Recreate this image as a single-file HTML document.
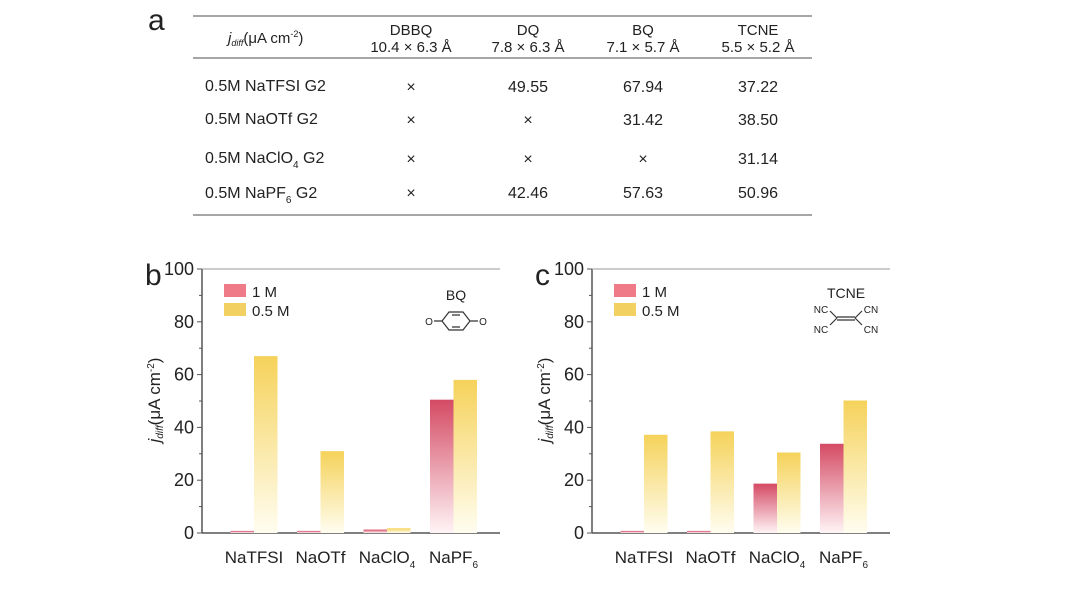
<!DOCTYPE html>
<html><head><meta charset="utf-8"><style>
body{margin:0;background:#fff;font-family:"Liberation Sans",sans-serif;}
svg text{font-family:"Liberation Sans",sans-serif;fill:#222;}
</style></head><body>
<svg width="1080" height="587" viewBox="0 0 1080 587">
<defs>
<linearGradient id="gr" x1="0" y1="0" x2="0" y2="1"><stop offset="0" stop-color="#d44a64"/><stop offset="1" stop-color="#fff4f6"/></linearGradient>
<linearGradient id="gy" x1="0" y1="0" x2="0" y2="1"><stop offset="0" stop-color="#f5d25a"/><stop offset="1" stop-color="#fffdf0"/></linearGradient>
</defs>
<g>
<text x="148" y="30" font-size="30">a</text>
<line x1="193" y1="16" x2="812" y2="16" stroke="#888" stroke-width="1.5"/>
<line x1="193" y1="58" x2="812" y2="58" stroke="#888" stroke-width="1.5"/>
<line x1="193" y1="215" x2="812" y2="215" stroke="#888" stroke-width="1.5"/>
<text x="228" y="43" font-size="15"><tspan font-style="italic">j</tspan><tspan font-size="9" dy="3" font-style="italic">diff</tspan><tspan dy="-3">(μA cm</tspan><tspan font-size="9" dy="-6">-2</tspan><tspan dy="6">)</tspan></text>
<g font-size="15" text-anchor="middle">
<text x="411" y="35">DBBQ</text><text x="411" y="52">10.4 × 6.3 Å</text>
<text x="528" y="35">DQ</text><text x="528" y="52">7.8 × 6.3 Å</text>
<text x="643" y="35">BQ</text><text x="643" y="52">7.1 × 5.7 Å</text>
<text x="758" y="35">TCNE</text><text x="758" y="52">5.5 × 5.2 Å</text>
</g>
<g font-size="16">
<text x="205" y="91">0.5M NaTFSI G2</text>
<text x="205" y="124">0.5M NaOTf  G2</text>
<text x="205" y="163">0.5M NaClO<tspan font-size="10" dy="5">4</tspan><tspan dy="-5"> G2</tspan></text>
<text x="205" y="198">0.5M NaPF<tspan font-size="10" dy="5">6</tspan><tspan dy="-5"> G2</tspan></text>
</g>
<g font-size="16" text-anchor="middle">
<text x="411" y="92">×</text><text x="528" y="92">49.55</text><text x="643" y="92">67.94</text><text x="758" y="92">37.22</text>
<text x="411" y="125">×</text><text x="528" y="125">×</text><text x="643" y="125">31.42</text><text x="758" y="125">38.50</text>
<text x="411" y="164">×</text><text x="528" y="164">×</text><text x="643" y="164">×</text><text x="758" y="164">31.14</text>
<text x="411" y="198">×</text><text x="528" y="198">42.46</text><text x="643" y="198">57.63</text><text x="758" y="198">50.96</text>
</g>
</g>
<g id="chartb"></g>
<g id="chartc"></g>
</svg>
<script>
const categories = ["NaTFSI","NaOTf","NaClO4","NaPF6"];
const yTicks = [0,20,40,60,80,100];
const bOneM = [0.8,0.8,1.3,50.5];
const bHalfM = [67,31,1.8,58];
const cOneM = [0.8,0.8,18.7,33.8];
const cHalfM = [37.2,38.5,30.5,50.2];
const NS="http://www.w3.org/2000/svg";
function mk(p,t,a,txt){const e=document.createElementNS(NS,t);for(const k in a)e.setAttribute(k,a[k]);if(txt!==undefined)e.textContent=txt;p.appendChild(e);return e;}
function chart(id,x0,x1,one,half,letter,mol){
 const g=document.getElementById(id);
 const yT=269,yB=533;
 const y=v=>yB-(v/100)*(yB-yT);
 const step=66.5, first=x0+52;
 const xc=i=>first+i*step;
 const bw=23.5;
 let e=mk(g,'line',{x1:x0,y1:yT,x2:x0,y2:yB,stroke:'#555','stroke-width':1.5});
 
 e=mk(g,'line',{x1:x0,y1:yB,x2:x1,y2:yB,stroke:'#555','stroke-width':1.5});
 
 mk(g,'line',{x1:x0,y1:yT,x2:x1,y2:yT,stroke:'#999','stroke-width':1});
 yTicks.forEach(t=>{
  mk(g,'line',{x1:x0-5,y1:y(t),x2:x0,y2:y(t),stroke:'#555'});
  if(t<100) mk(g,'line',{x1:x0-3,y1:y(t+10),x2:x0,y2:y(t+10),stroke:'#555'});
  const l=mk(g,'text',{x:x0-8,y:y(t)+6,'font-size':18,'text-anchor':'end'},String(t));
  
 });
 mk(g,'text',{x:x0-57,y:285,'font-size':30},letter);
 const yl=mk(g,'text',{transform:`translate(${x0-42},400) rotate(-90)`,'font-size':17,'text-anchor':'middle'});
 yl.innerHTML='<tspan font-style="italic">j</tspan><tspan font-size="10" dy="3" font-style="italic">diff</tspan><tspan dy="-3">(μA cm</tspan><tspan font-size="10" dy="-6">-2</tspan><tspan dy="6">)</tspan>';
 
 categories.forEach((c,i)=>{
  let r=mk(g,'rect',{x:xc(i)-bw,y:y(one[i]),width:bw,height:yB-y(one[i]),fill:'url(#gr)'});
  
  r=mk(g,'rect',{x:xc(i),y:y(half[i]),width:bw,height:yB-y(half[i]),fill:'url(#gy)'});
  
  const t=mk(g,'text',{x:xc(i),y:563,'font-size':17,'text-anchor':'middle'});
  const m=c.match(/^(.*?)(\d)$/);
  if(m) t.innerHTML=m[1]+'<tspan font-size="10" dy="5">'+m[2]+'</tspan>'; else t.textContent=c;
  
 });
 let lg=mk(g,'g',{});
 
 mk(lg,'rect',{x:x0+22,y:284,width:22,height:13,fill:'#f07b88'});
 mk(lg,'text',{x:x0+50,y:297,'font-size':15},'1 M');
 mk(lg,'rect',{x:x0+22,y:303,width:22,height:13,fill:'#f3d062'});
 mk(lg,'text',{x:x0+50,y:316,'font-size':15},'0.5 M');
 const mc=(x0+x1)/2+105;
 if(mol==='BQ'){
  mk(g,'text',{x:mc,y:300,'font-size':14,'text-anchor':'middle'},'BQ');
  mk(g,'path',{d:`M${mc-14},321 l7,-9 h14 l7,9 l-7,9 h-14 z M${mc-4},315 h8 M${mc-4},327 h8 M${mc-14},321 h-8 M${mc+14},321 h8`,fill:'none',stroke:'#333','stroke-width':1.2});
  mk(g,'text',{x:mc-27,y:325,'font-size':10,'text-anchor':'middle'},'O');
  mk(g,'text',{x:mc+27,y:325,'font-size':10,'text-anchor':'middle'},'O');
 } else {
  mk(g,'text',{x:mc,y:298,'font-size':14,'text-anchor':'middle'},'TCNE');
  mk(g,'path',{d:`M${mc-9},317 h18 M${mc-9},320 h18 M${mc-9},318 l-7,-7 M${mc-9},318 l-7,7 M${mc+9},318 l7,-7 M${mc+9},318 l7,7`,fill:'none',stroke:'#333','stroke-width':1.2});
  mk(g,'text',{x:mc-25,y:313,'font-size':10,'text-anchor':'middle'},'NC');
  mk(g,'text',{x:mc-25,y:333,'font-size':10,'text-anchor':'middle'},'NC');
  mk(g,'text',{x:mc+25,y:313,'font-size':10,'text-anchor':'middle'},'CN');
  mk(g,'text',{x:mc+25,y:333,'font-size':10,'text-anchor':'middle'},'CN');
 }
}
chart('chartb',202,500,bOneM,bHalfM,'b','BQ');
chart('chartc',592,890,cOneM,cHalfM,'c','TCNE');
</script>
</body></html>
